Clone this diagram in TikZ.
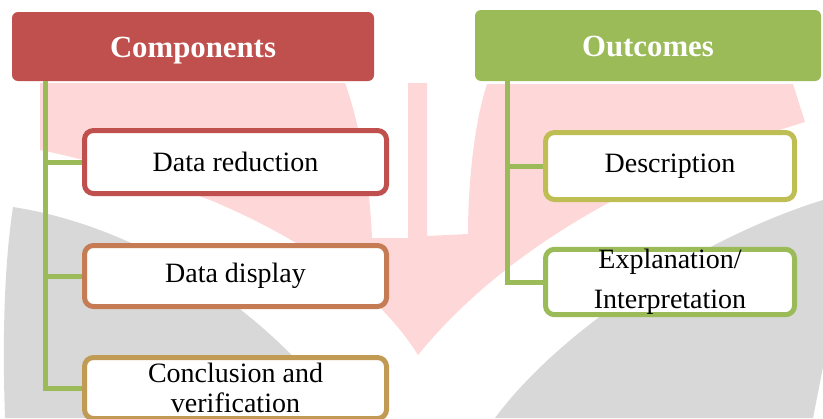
\documentclass[tikz,border=0pt]{standalone}
\usepackage{fontspec}
\setmainfont{Liberation Serif}
\definecolor{hdred}{HTML}{C0504D}
\definecolor{hdgreen}{HTML}{9BBB59}
\definecolor{brdbrown}{HTML}{C57B54}
\definecolor{brdgold}{HTML}{C19A54}
\definecolor{brdolive}{HTML}{BEBE55}
\definecolor{wmpink}{HTML}{FED8D8}
\definecolor{wmgrey}{HTML}{D8D8D8}
\begin{document}
\begin{tikzpicture}[x=0.5pt,y=-0.5pt,
    head/.style={rounded corners=3pt,text=white,inner sep=0pt,
        text height=13.5pt,text depth=3pt,
        font=\fontsize{15.4}{18}\selectfont\bfseries},
    itembox/.style={draw,line width=2.5pt,rounded corners=4.5pt,fill=white,
        align=center,inner sep=0pt,font=\fontsize{14}{15}\selectfont},
    branch/.style={draw=hdgreen,line width=2.5pt}]
    \useasboundingbox (0,0) rectangle (823,418);
    %% watermark in the background
    \fill[wmgrey] (13,207) .. controls (130,225) and (260,300) .. (345,418)
        -- (5,418) .. controls (2,330) and (5,260) .. (13,207) -- cycle;
    \fill[wmgrey] (823,200) .. controls (700,238) and (560,330) .. (495,418)
        -- (813,418) -- (823,367) -- cycle;
    \fill[wmpink] (40,83) -- (345,83) .. controls (362,130) and (370,190) .. (372,238)
        -- (408,238) -- (408,83) -- (427,83) -- (427,236) -- (468,234)
        .. controls (468,180) and (475,120) .. (487,84) -- (793,84) -- (805,122)
        .. controls (680,160) and (520,230) .. (418,355)
        .. controls (390,310) and (330,250) .. (210,200)
        .. controls (150,178) and (90,160) .. (40,150) -- cycle;
    %% headers
    \node[head,fill=hdred,minimum width=181pt,minimum height=34.5pt] (comp) at (193,46.5) {Components};
    \node[head,fill=hdgreen,minimum width=173pt,minimum height=35.5pt] (outc) at (648,45.5) {Outcomes};
    %% components
    \node[itembox,draw=hdred,minimum width=151pt,minimum height=31.5pt] (reduct) at (235.5,162) {Data reduction};
    \node[itembox,draw=brdbrown,minimum width=151pt,minimum height=30.5pt] (displ) at (235.5,276) {Data display};
    \node[itembox,draw=brdgold,minimum width=151pt,minimum height=30.5pt] (concl) at (235.5,388) {Conclusion and\\verification};
    %% outcomes
    \node[itembox,draw=brdolive,minimum width=124.5pt,minimum height=33.5pt] (descr) at (670,166) {Description};
    \node[itembox,draw=hdgreen,minimum width=124.5pt,minimum height=31.5pt,
        font=\fontsize{14}{20}\selectfont] (expl) at (670,282) {Explanation/\\Interpretation};
    %% tree lines
    \coordinate (ltrunk) at ([xshift=16.75pt]comp.south west);
    \coordinate (rtrunk) at ([xshift=16.5pt]outc.south west);
    \draw[branch] (ltrunk) |- (reduct.west);
    \draw[branch] (ltrunk) |- (displ.west);
    \draw[branch] (ltrunk) |- (concl.west);
    \draw[branch] (rtrunk) |- (descr.west);
    \draw[branch] (rtrunk) |- (expl.west);
\end{tikzpicture}
\end{document}
